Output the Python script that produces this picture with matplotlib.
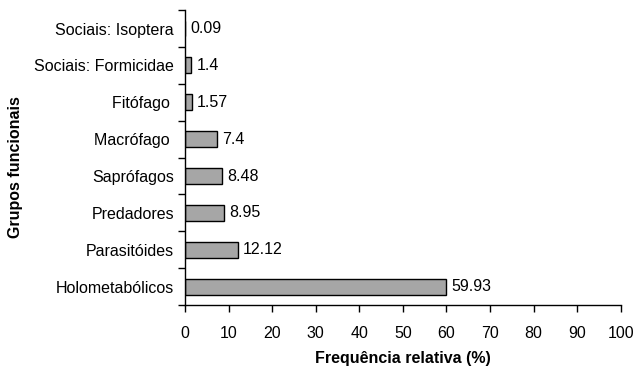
import numpy as np
import matplotlib.pyplot as plt

plt.rcParams['font.family'] = ['Liberation Sans', 'DejaVu Sans']

grupos = ['Holometabólicos', 'Parasitóides', 'Predadores', 'Saprófagos',
          'Macrófago ', 'Fitófago ', 'Sociais: Formicidae', 'Sociais: Isoptera']
freq = [59.93, 12.12, 8.95, 8.48, 7.4, 1.57, 1.4, 0.09]
rotulos = ['59.93', '12.12', '8.95', '8.48', '7.4', '1.57', '1.4', '0.09']

fs = 11.5
fig = plt.figure(figsize=(6.36, 3.73), dpi=100)
ax = fig.add_axes([0.291, 0.182, 0.685, 0.791])

y = np.arange(len(grupos))
ax.barh(y, freq, height=0.43, color='#a6a6a6', edgecolor='black', linewidth=1)
for yi, v, t in zip(y, freq, rotulos):
    ax.text(v + 1.2, yi, t, va='center', ha='left', fontsize=fs)

ax.set_xlim(0, 100)
ax.set_ylim(-0.5, len(grupos) - 0.5)
ax.set_xticks(np.arange(0, 101, 10))
ax.set_yticks(y)
ax.set_yticklabels(grupos, fontsize=fs)
ax.set_yticks(np.arange(-0.5, len(grupos)), minor=True)
ax.tick_params(axis='y', which='major', length=0, pad=8)
ax.tick_params(axis='y', which='minor', length=5, width=1, direction='out')
ax.tick_params(axis='x', length=5, width=1, direction='out', labelsize=fs, pad=10)

for s in ['top', 'right']:
    ax.spines[s].set_visible(False)
for s in ['left', 'bottom']:
    ax.spines[s].set_linewidth(1)

ax.set_xlabel('Frequência relativa (%)', fontweight='bold', fontsize=fs, labelpad=7)
fig.text(16 / 636, 0.552, 'Grupos funcionais', rotation=90, ha='center', va='center',
         fontweight='bold', fontsize=fs)

fig.savefig('out.png', dpi=100)
